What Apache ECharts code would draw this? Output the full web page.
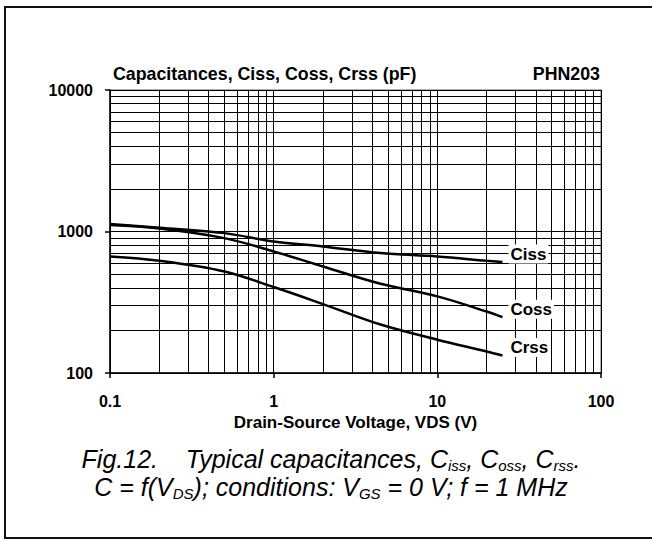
<!DOCTYPE html>
<html>
<head>
<meta charset="utf-8">
<script src="https://cdn.jsdelivr.net/npm/echarts/dist/echarts.min.js"></script>
<style>
html,body{margin:0;padding:0;background:#fff;}
#frame{position:absolute;left:4px;top:6px;width:700px;height:533px;box-sizing:border-box;border:2px solid #111;border-right:none;}
#chart{position:absolute;left:0;top:0;width:652px;height:540px;}
</style>
</head>
<body>
<div id="frame"></div>
<div id="chart"></div>
<script>
// Drain-source voltage (V) sample points
const vds  = [0.1, 0.2, 0.5, 1, 2, 4.5, 10, 20, 25];
// Capacitances (pF)
const ciss = [1128, 1062, 974, 850, 784, 704, 666, 621, 608];
const coss = [1110, 1050, 898, 723, 566, 427, 348, 272, 248];
const crss = [666, 621, 522, 405, 307, 220, 172, 142, 133];
// Tick labels
const xTickLabels = ['0.1', '1', '10', '100'];
const yTickLabels = ['100', '1000', '10000'];
// Minor grid (log decades)
const minorSteps = [2, 3, 4, 5, 6, 7, 8, 9];
const xDecades = [0.1, 1, 10];
const yDecades = [100, 1000];

const FONT = "'Liberation Sans', Arial, Helvetica, sans-serif";

function tickFmt(labels) {
  return function (v) {
    const l = labels.find(s => Math.abs(Math.log10(+s) - Math.log10(v)) < 1e-6);
    return l === undefined ? '' : l;
  };
}

const minorLines = [];
xDecades.forEach(d => minorSteps.forEach(m => minorLines.push({ xAxis: +(d * m).toPrecision(6) })));
yDecades.forEach(d => minorSteps.forEach(m => minorLines.push({ yAxis: +(d * m).toPrecision(6) })));

function curve(name, vals) {
  return {
    type: 'line',
    name: name,
    data: vds.map((x, i) => [x, vals[i]]),
    smooth: 0.35,
    showSymbol: false,
    symbol: 'none',
    z: 6,
    lineStyle: { color: '#000', width: 2.5 },
    emphasis: { disabled: true },
    endLabel: {
      show: true,
      formatter: name,
      color: '#000',
      fontFamily: FONT,
      fontWeight: 'bold',
      fontSize: 17,
      backgroundColor: '#fff',
      padding: [1, 2],
      distance: 6,
      offset: [0, -8]
    }
  };
}

const chart = echarts.init(document.getElementById('chart'), null, { renderer: 'svg', width: 652, height: 540 });

const mainStyle = { fontFamily: FONT, fontStyle: 'italic', fontWeight: 'normal', fontSize: 25, lineHeight: 28, color: '#000' };
const subStyle1 = { fontFamily: FONT, fontStyle: 'italic', fontWeight: 'normal', fontSize: 15, lineHeight: 17, verticalAlign: 'bottom', color: '#000' };
const subStyle2 = { fontFamily: FONT, fontStyle: 'italic', fontWeight: 'normal', fontSize: 15, lineHeight: 12, verticalAlign: 'bottom', color: '#000' };

chart.setOption({
  animation: false,
  backgroundColor: 'transparent',
  textStyle: { fontFamily: FONT },
  title: [
    {
      text: 'Capacitances, Ciss, Coss, Crss (pF)',
      left: 113, top: 64, padding: 0,
      textStyle: { fontFamily: FONT, fontWeight: 'bold', fontSize: 17.8, lineHeight: 20, color: '#000' }
    },
    {
      text: 'PHN203',
      right: 52, top: 64, padding: 0,
      textStyle: { fontFamily: FONT, fontWeight: 'bold', fontSize: 17.8, lineHeight: 20, color: '#000' }
    },
    {
      text: '{m|Fig.12.\u00a0\u00a0\u00a0\u00a0Typical capacitances, C}{s|iss}{m|, C}{s|oss}{m|, C}{s|rss}{m|.}\n' +
            '{m|C = f(V}{t|DS}{m|); conditions: V}{t|GS}{m| = 0 V; f = 1 MHz}',
      left: 331, top: 445, padding: 0,
      textAlign: 'center',
      textStyle: Object.assign({}, mainStyle, {
        rich: { m: mainStyle, s: subStyle1, t: subStyle2 }
      })
    }
  ],
  grid: {
    left: 110, right: 51, top: 90, bottom: 167,
    show: true, borderColor: '#999', borderWidth: 1.5,
    outerBoundsMode: 'none'
  },
  xAxis: {
    type: 'log', logBase: 10, min: 0.1, max: 100,
    name: 'Drain-Source Voltage, VDS (V)',
    nameLocation: 'middle', nameGap: 39,
    nameTextStyle: { fontFamily: FONT, fontWeight: 'bold', fontSize: 17, color: '#000' },
    axisLine: { show: true, lineStyle: { color: '#000', width: 1.5 } },
    axisTick: { show: true, inside: false, length: 5, lineStyle: { color: '#000', width: 1.5 } },
    minorTick: { show: false },
    axisLabel: { margin: 20, fontFamily: FONT, fontWeight: 'bold', fontSize: 16, color: '#000', formatter: tickFmt(xTickLabels) },
    splitLine: { show: true, lineStyle: { color: '#000', width: 1 } }
  },
  yAxis: {
    type: 'log', logBase: 10, min: 100, max: 10000,
    axisLine: { show: true, lineStyle: { color: '#000', width: 1.5 } },
    axisTick: { show: true, inside: false, length: 5, lineStyle: { color: '#000', width: 1.5 } },
    minorTick: { show: false },
    axisLabel: { margin: 17, fontFamily: FONT, fontWeight: 'bold', fontSize: 16, color: '#000', formatter: tickFmt(yTickLabels) },
    splitLine: { show: true, lineStyle: { color: '#000', width: 1 } }
  },
  series: [
    {
      type: 'line',
      name: 'grid',
      data: [[0.1, 100]],
      symbol: 'none',
      showSymbol: false,
      silent: true,
      z: 1,
      lineStyle: { width: 0, opacity: 0 },
      markLine: {
        silent: true,
        animation: false,
        z: 1,
        symbol: ['none', 'none'],
        label: { show: false },
        emphasis: { disabled: true },
        lineStyle: { color: '#000', width: 1, type: 'solid' },
        data: minorLines
      }
    },
    curve('Ciss', ciss),
    curve('Coss', coss),
    curve('Crss', crss)
  ]
});
</script>
</body>
</html>
